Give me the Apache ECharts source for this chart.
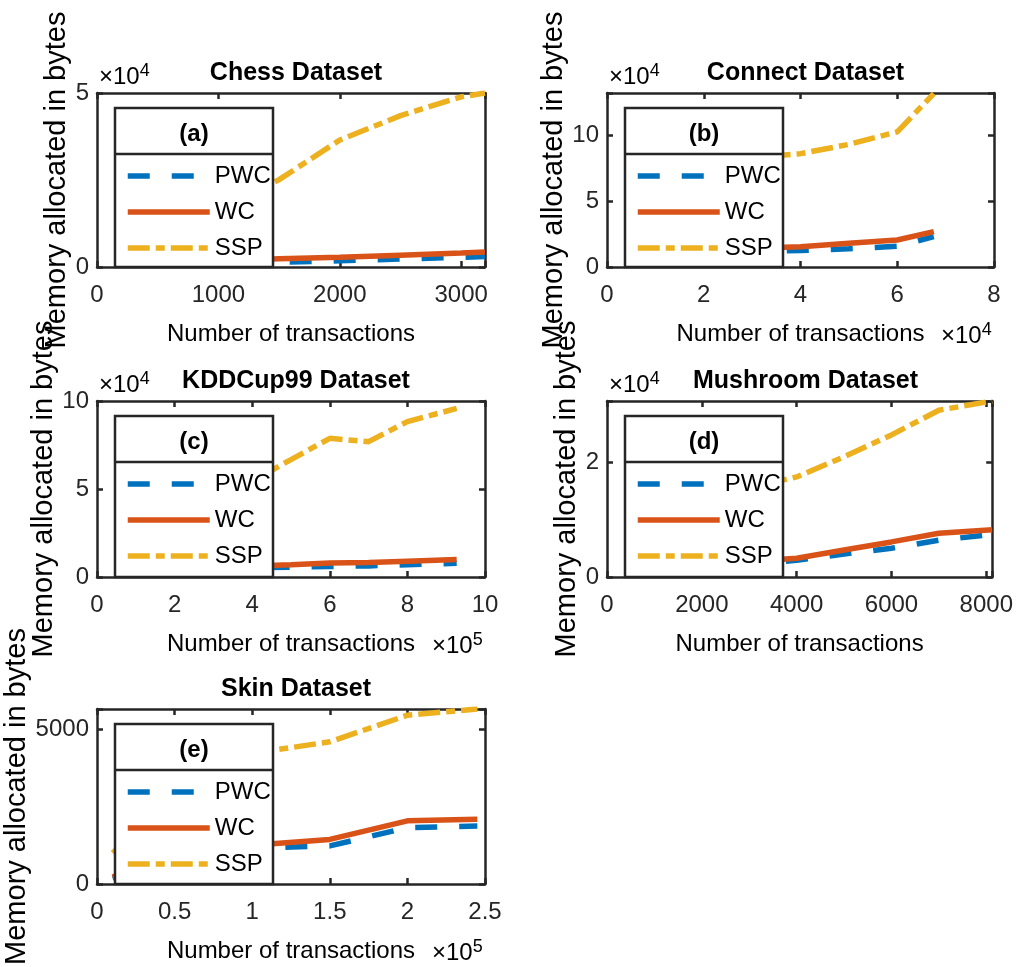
<!DOCTYPE html>
<html>
<head>
<meta charset="utf-8">
<style>html,body{margin:0;padding:0;background:#fff}#c{width:1016px;height:967px}</style>
<script src="https://cdn.jsdelivr.net/npm/echarts@6/dist/echarts.min.js"></script>
</head>
<body>
<div id="c"></div>
<script>
// ---------- data ----------
const seriesNames = ['PWC', 'WC', 'SSP'];
const panelTitles = ['Chess Dataset', 'Connect Dataset', 'KDDCup99 Dataset', 'Mushroom Dataset', 'Skin Dataset'];
const panelTags = ['(a)', '(b)', '(c)', '(d)', '(e)'];

const chessX   = [500, 1000, 1500, 2000, 2500, 3000, 3196];
const chessPWC = [600, 1000, 1400, 1800, 2300, 2800, 3000];
const chessWC  = [1200, 1800, 2400, 2800, 3400, 4000, 4300];
const chessSSP = [9000, 17000, 25100, 36500, 43500, 48900, 50000];

const connectX   = [10000, 20000, 30000, 40000, 50000, 60000, 67557];
const connectPWC = [4000, 7000, 11800, 12500, 13800, 15800, 23000];
const connectWC  = [5000, 8500, 14200, 15400, 18000, 20500, 26800];
const connectSSP = [40000, 65000, 83000, 86000, 93000, 102500, 131600];

const kddX   = [100000, 200000, 300000, 400000, 500000, 600000, 700000, 800000, 927000];
const kddPWC = [1500, 2800, 4000, 5200, 5600, 6000, 6300, 7000, 7800];
const kddWC  = [2000, 3500, 4800, 6200, 7000, 8000, 8200, 9000, 10000];
const kddSSP = [15000, 28000, 42000, 54500, 66700, 78800, 76900, 88300, 95800];

const mushX   = [1000, 2000, 3000, 4000, 5000, 6000, 7000, 8124];
const mushPWC = [700, 1400, 2200, 2900, 4000, 5000, 6400, 7400];
const mushWC  = [800, 1600, 2700, 3250, 4700, 6100, 7600, 8200];
const mushSSP = [5000, 10000, 15500, 17400, 20900, 24700, 29000, 30600];

const skinX   = [10000, 50000, 100000, 150000, 200000, 245057];
const skinPWC = [200, 700, 1150, 1230, 1820, 1870];
const skinWC  = [230, 800, 1250, 1440, 2040, 2090];
const skinSSP = [1000, 2800, 4220, 4590, 5450, 5650];

// axis scales
const xMaxes = [3196, 80000, 1000000, 8124, 250000];
const xSteps = [1000, 20000, 200000, 2000, 50000];
const xDivs  = [1, 10000, 100000, 1, 100000];
const yMaxes = [50000, 132000, 100000, 30600, 5650];
const ySteps = [50000, 50000, 50000, 20000, 5000];
const yDivs  = [10000, 10000, 10000, 10000, 1];

// ---------- layout / style ----------
const panelsData = [
  [chessX, [chessPWC, chessWC, chessSSP]],
  [connectX, [connectPWC, connectWC, connectSSP]],
  [kddX, [kddPWC, kddWC, kddSSP]],
  [mushX, [mushPWC, mushWC, mushSSP]],
  [skinX, [skinPWC, skinWC, skinSSP]]
];
const gridBoxes = [
  {left: 97, top: 93, width: 388, height: 174},
  {left: 607, top: 93, width: 387, height: 174},
  {left: 97, top: 401, width: 388, height: 176},
  {left: 607, top: 401, width: 387, height: 176},
  {left: 97, top: 709, width: 388, height: 175}
];
const yNameGaps = [10, 31, 31, 20, 56];
const yExpShow = [true, true, true, true, false];
const xExpShow = [false, true, true, false, true];
const xExpText = ['', '4', '5', '', '5'];

const FONT = '"Liberation Sans", Arial, Helvetica, sans-serif';
const AX = '#262626';
const colors = ['#0072BD', '#D95319', '#EDB120'];
const dashes = [[22, 22], 'solid', [22, 6, 9, 6]];

const grid = [], xAxis = [], yAxis = [], series = [], title = [], legend = [], graphic = [];

function fmt(step, div) {
  return function (v) {
    if (Math.abs(v / step - Math.round(v / step)) > 1e-9) return '';
    return String(+(v / div).toFixed(4));
  };
}

gridBoxes.forEach(function (g, i) {
  grid.push({left: g.left, top: g.top, width: g.width, height: g.height, containLabel: false});
  const common = {
    type: 'value', gridIndex: i, min: 0,
    axisLine: {show: true, onZero: false, lineStyle: {color: AX, width: 2.5}},
    axisTick: {show: true, inside: true, length: 6, lineStyle: {color: AX, width: 2.5}},
    splitLine: {show: false}
  };
  xAxis.push(Object.assign({}, common, {
    position: 'bottom', max: xMaxes[i], interval: xSteps[i],
    name: 'Number of transactions', nameLocation: 'middle', nameGap: 55,
    nameTextStyle: {fontFamily: FONT, fontSize: 24, color: '#000'},
    axisLabel: {show: true, formatter: fmt(xSteps[i], xDivs[i]), fontFamily: FONT, fontSize: 24, color: '#262626', margin: 16, showMaxLabel: true, hideOverlap: false}
  }));
  xAxis.push(Object.assign({}, common, {
    position: 'top', max: xMaxes[i], interval: xSteps[i], axisLabel: {show: false}
  }));
  yAxis.push(Object.assign({}, common, {
    position: 'left', max: yMaxes[i], interval: ySteps[i],
    name: 'Memory allocated in bytes', nameLocation: 'middle', nameGap: yNameGaps[i], nameRotate: 90,
    nameTextStyle: {fontFamily: FONT, fontSize: 29, color: '#000'},
    axisLabel: {show: true, formatter: fmt(ySteps[i], yDivs[i]), fontFamily: FONT, fontSize: 24, color: '#262626', margin: 8}
  }));
  yAxis.push(Object.assign({}, common, {
    position: 'right', max: yMaxes[i], interval: ySteps[i], axisLabel: {show: false}
  }));

  const xs = panelsData[i][0];
  panelsData[i][1].forEach(function (ys, k) {
    series.push({
      type: 'line', name: seriesNames[k], xAxisIndex: 2 * i, yAxisIndex: 2 * i,
      data: xs.map(function (x, j) { return [x, ys[j]]; }),
      symbol: 'none', smooth: false, z: 2,
      lineStyle: {color: colors[k], width: 5.5, type: dashes[k]},
      itemStyle: {color: colors[k]}
    });
  });

  const cx = g.left + g.width / 2;
  title.push({
    text: panelTitles[i], left: cx, top: g.top - 37, textAlign: 'center',
    textStyle: {fontFamily: FONT, fontSize: 25, fontWeight: 'bold', color: '#000'}
  });

  // legend box with header
  const bx = g.left + 18, by = g.top + 15, bw = 158, bh = g.height - 15;
  graphic.push({type: 'rect', z: 50, shape: {x: bx, y: by, width: bw, height: bh},
    style: {fill: '#fff', stroke: AX, lineWidth: 2.5}});
  graphic.push({type: 'line', z: 51, shape: {x1: bx, y1: by + 46, x2: bx + bw, y2: by + 46},
    style: {stroke: AX, lineWidth: 2.5}});
  graphic.push({type: 'text', z: 52, x: bx + bw / 2, y: by + 26,
    style: {text: panelTags[i], fontFamily: FONT, fontSize: 24, fontWeight: 'bold', fill: '#000', align: 'center', verticalAlign: 'middle'}});
  legend.push({
    data: seriesNames, orient: 'vertical', left: bx + 10, top: by + 56,
    itemWidth: 82, itemHeight: 14, itemGap: 12, padding: 0, z: 60,
    selectedMode: false,
    lineStyle: {width: 5.5},
    itemStyle: {color: 'rgba(0,0,0,0)', borderColor: 'rgba(0,0,0,0)', borderWidth: 0, opacity: 0},
    textStyle: {fontFamily: FONT, fontSize: 24, color: '#000', padding: [0, 0, 0, 0]}
  });

  const rich = {m: {fontFamily: FONT, fontSize: 24, color: '#262626'},
                s: {fontFamily: FONT, fontSize: 18, color: '#262626', verticalAlign: 'top', padding: [0, 0, 12, 0]}};
  if (yExpShow[i]) {
    graphic.push({type: 'text', z: 40, x: g.left + 2, y: g.top - 31,
      style: {text: '{m|×10}{s|4}', rich: rich, align: 'left', verticalAlign: 'top'}});
  }
  if (xExpShow[i]) {
    graphic.push({type: 'text', z: 40, x: g.left + g.width - 53, y: g.top + g.height + 54,
      style: {text: '{m|×10}{s|' + xExpText[i] + '}', rich: rich, align: 'left', verticalAlign: 'top'}});
  }
});

const chart = echarts.init(document.getElementById('c'), null, {renderer: 'canvas'});
chart.setOption({
  backgroundColor: '#fff',
  animation: false,
  grid: grid, xAxis: xAxis, yAxis: yAxis, series: series,
  title: title, legend: legend, graphic: graphic
});
</script>
</body>
</html>
